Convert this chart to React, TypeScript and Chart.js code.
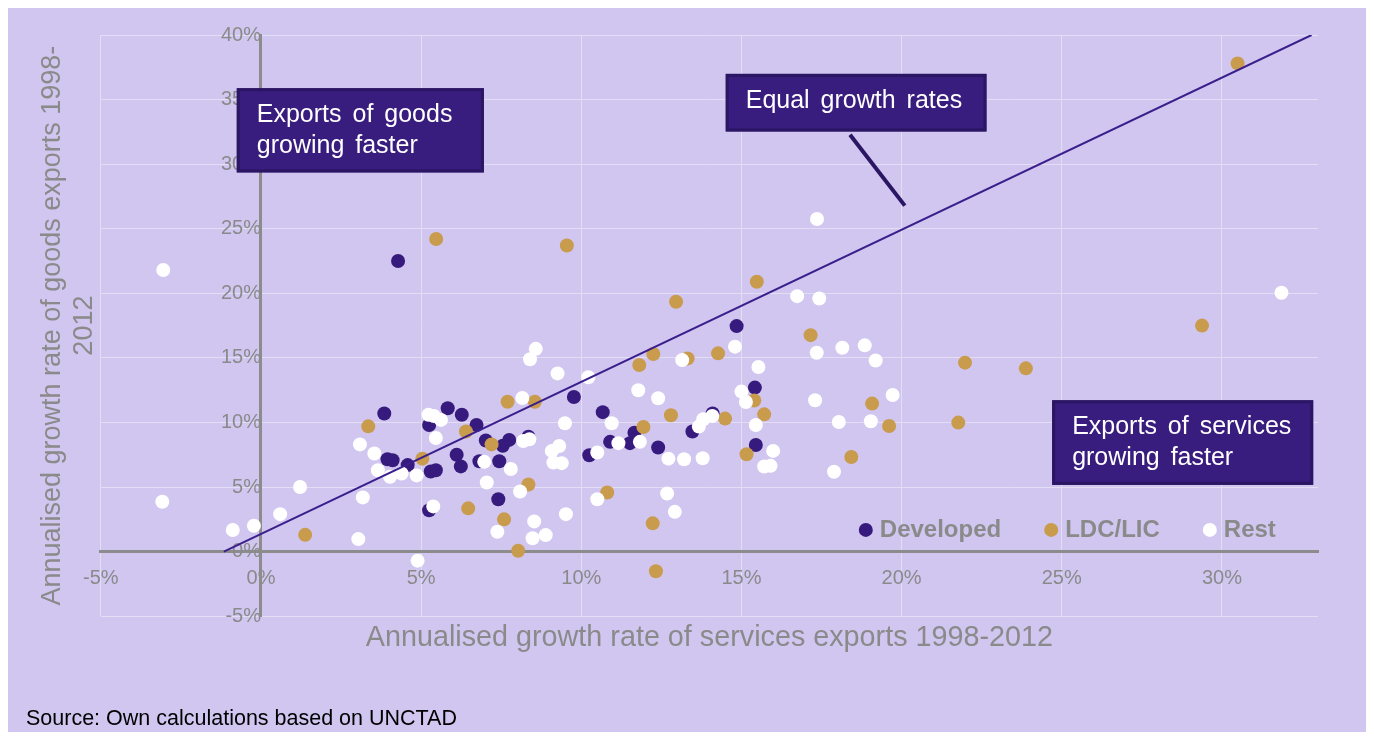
import { useEffect, useRef } from 'react';
import { Chart, registerables } from 'chart.js';

Chart.register(...registerables);

// ---- Data (values in %) ----
const developedX = [4.28, 3.85, 3.95, 4.11, 4.58, 5.25, 5.3, 5.46, 5.25, 5.83, 6.27, 6.73, 7.02, 7.55, 7.75, 8.35, 6.11, 6.24, 6.82, 7.44, 7.41, 9.77, 10.67, 11.66, 10.9, 11.52, 12.4, 13.47, 14.1, 10.25, 14.85, 15.42, 15.45];
const developedY = [22.5, 10.7, 7.15, 7.08, 6.7, 3.2, 6.2, 6.3, 9.8, 11.1, 10.6, 9.8, 8.6, 8.2, 8.65, 8.9, 7.5, 6.6, 7.0, 7.0, 4.06, 11.97, 10.8, 9.2, 8.5, 8.4, 8.06, 9.3, 10.7, 7.46, 17.46, 12.7, 8.26];

const ldcX = [3.35, 5.04, 1.38, 6.4, 7.2, 8.55, 7.7, 8.35, 6.47, 7.59, 8.03, 5.47, 9.55, 12.96, 15.48, 12.25, 11.81, 13.32, 14.27, 17.16, 15.4, 15.71, 15.16, 12.8, 11.94, 14.49, 10.81, 12.23, 12.33, 19.08, 19.61, 18.43, 21.98, 23.88, 21.77, 30.49, 29.38];
const ldcY = [9.7, 7.2, 1.3, 9.3, 8.3, 11.6, 11.6, 5.2, 3.35, 2.5, 0.07, 24.2, 23.7, 19.35, 20.9, 15.3, 14.45, 14.96, 15.35, 16.76, 11.7, 10.63, 7.54, 10.56, 9.65, 10.3, 4.58, 2.19, -1.52, 11.46, 9.73, 7.33, 14.63, 14.19, 9.99, 37.8, 17.5];

const restX = [-3.05, -3.08, -0.88, -0.22, 0.6, 1.22, 3.09, 3.54, 3.65, 4.03, 4.39, 4.86, 3.18, 3.04, 4.89, 5.38, 5.23, 5.4, 5.62, 5.46, 6.97, 7.8, 7.05, 8.09, 7.38, 8.53, 8.48, 8.89, 8.38, 8.19, 8.16, 8.58, 8.4, 9.26, 10.22, 11.78, 12.4, 13.15, 14.8, 17.35, 15.0, 15.14, 15.53, 15.45, 15.99, 15.71, 15.91, 9.49, 10.95, 11.16, 11.83, 12.72, 13.21, 13.79, 13.67, 13.81, 14.09, 10.5, 9.08, 9.31, 9.13, 9.39, 10.5, 12.68, 12.92, 9.52, 16.74, 17.43, 17.36, 18.15, 18.85, 19.19, 17.3, 19.72, 18.04, 19.04, 17.89, 31.86];
const restY = [21.8, 3.86, 1.67, 2.0, 2.9, 5.0, 8.3, 7.6, 6.3, 5.8, 6.05, 5.9, 4.2, 0.97, -0.7, 3.5, 10.6, 10.5, 10.2, 8.8, 6.95, 6.4, 5.35, 4.66, 1.54, 2.34, 1.03, 1.28, 8.7, 8.57, 11.9, 15.7, 14.9, 13.8, 13.5, 12.49, 11.87, 14.83, 15.87, 15.4, 12.39, 11.58, 14.3, 9.8, 7.8, 6.59, 6.64, 9.94, 9.94, 8.4, 8.5, 7.2, 7.15, 7.23, 9.68, 10.25, 10.5, 7.67, 7.8, 8.18, 6.9, 6.85, 4.06, 4.5, 3.08, 2.9, 19.78, 19.6, 25.75, 15.79, 15.97, 14.8, 11.72, 12.13, 10.04, 10.09, 6.18, 20.04];

const equalLineX = [-1.16, 32.8];
const equalLineY = [0, 40];

const seriesLabels = ['Developed', 'LDC/LIC', 'Rest'];
const xTitleText = 'Annualised growth rate of services exports 1998-2012';
const yTitleText = ['Annualised growth rate of goods exports 1998-', '2012'];
const sourceText = 'Source: Own calculations based on UNCTAD';

// ---- Styles ----
const FONT = "'Liberation Sans', Arial, sans-serif";
const BG = '#d1c6f0';
const GRID = '#e3def4';
const AXIS = '#8c8c8c';
const TEXT_GRAY = '#8a8a8a';
const DEV = '#371a7d';
const LDC = '#c89b4d';
const REST = '#ffffff';
const LINE = '#3a1f8c';
const BOX_FILL = '#381c7e';
const BOX_BORDER = '#2b1663';

// annotation boxes in data coordinates
const annotations = [
  { lines: ['Exports of goods', 'growing faster'], x0: -0.755, x1: 6.96, y0: 35.88, y1: 29.36 },
  { lines: ['Equal growth rates'], x0: 14.51, x1: 22.65, y0: 36.99, y1: 32.53 },
  { lines: ['Exports of services', 'growing faster'], x0: 24.7, x1: 32.85, y0: 11.72, y1: 5.17 },
];
const connector = { x0: 18.39, y0: 32.27, x1: 20.1, y1: 26.79 };

const zip = (xs: number[], ys: number[]) => xs.map((x, i) => ({ x, y: ys[i] }));

const bgPlugin = {
  id: 'bgFill',
  beforeDraw(chart: any) {
    const { ctx, width, height } = chart;
    ctx.save();
    ctx.fillStyle = BG;
    ctx.fillRect(0, 0, width, height);
    ctx.restore();
  },
};

const overlayPlugin = {
  id: 'overlay',
  afterDraw(chart: any) {
    const { ctx, chartArea } = chart;
    const xs = chart.scales.x;
    const ys = chart.scales.y;
    ctx.save();
    // connector
    ctx.strokeStyle = BOX_BORDER;
    ctx.lineWidth = 4;
    ctx.beginPath();
    ctx.moveTo(xs.getPixelForValue(connector.x0), ys.getPixelForValue(connector.y0));
    ctx.lineTo(xs.getPixelForValue(connector.x1), ys.getPixelForValue(connector.y1));
    ctx.stroke();
    // boxes
    annotations.forEach((a) => {
      const l = xs.getPixelForValue(a.x0);
      const r = xs.getPixelForValue(a.x1);
      const t = ys.getPixelForValue(a.y0);
      const b = ys.getPixelForValue(a.y1);
      ctx.fillStyle = BOX_FILL;
      ctx.fillRect(l, t, r - l, b - t);
      ctx.strokeStyle = BOX_BORDER;
      ctx.lineWidth = 3;
      ctx.strokeRect(l + 1.5, t + 1.5, r - l - 3, b - t - 3);
      ctx.fillStyle = '#ffffff';
      ctx.font = `25px ${FONT}`;
      (ctx as any).wordSpacing = '4px';
      ctx.textBaseline = 'middle';
      ctx.textAlign = 'left';
      a.lines.forEach((line, i) => {
        ctx.fillText(line, l + 20, t + 27 + i * 31);
      });
      (ctx as any).wordSpacing = '0px';
    });
    // legend
    ctx.font = `bold 24px ${FONT}`;
    ctx.textBaseline = 'middle';
    ctx.textAlign = 'left';
    let lx = chartArea.left + 765;
    const ly = chartArea.bottom - 86.3;
    chart.data.datasets.forEach((ds: any) => {
      if (!seriesLabels.includes(ds.label)) return;
      ctx.fillStyle = ds.backgroundColor;
      ctx.beginPath();
      ctx.arc(lx, ly, 7, 0, Math.PI * 2);
      ctx.fill();
      ctx.fillStyle = TEXT_GRAY;
      ctx.fillText(ds.label, lx + 14, ly);
      lx += 14 + ctx.measureText(ds.label).width + 50;
    });
    ctx.restore();
  },
};

export default function App() {
  const ref = useRef<HTMLCanvasElement>(null);
  useEffect(() => {
    if (!ref.current) return;
    const tickFont = { family: FONT, size: 20 };
    const chart = new Chart(ref.current, {
      type: 'scatter',
      data: {
        datasets: [
          {
            label: 'Equal growth rates',
            type: 'line',
            data: zip(equalLineX, equalLineY),
            borderColor: LINE,
            borderWidth: 2,
            pointRadius: 0,
            fill: false,
            showLine: true,
            order: 0,
          } as any,
          { label: seriesLabels[0], data: zip(developedX, developedY), backgroundColor: DEV, pointRadius: 7, borderWidth: 0, order: 3 },
          { label: seriesLabels[1], data: zip(ldcX, ldcY), backgroundColor: LDC, pointRadius: 7, borderWidth: 0, order: 2 },
          { label: seriesLabels[2], data: zip(restX, restY), backgroundColor: REST, pointRadius: 7, borderWidth: 0, order: 1 },
        ],
      },
      options: {
        animation: false,
        responsive: true,
        maintainAspectRatio: false,
        events: [],
        layout: { padding: { left: 18, right: 48, top: 27, bottom: 0 } },
        plugins: {
          legend: { display: false },
          tooltip: { enabled: false },
          title: {
            display: true,
            text: sourceText,
            position: 'bottom',
            align: 'start',
            color: '#000000',
            font: { family: FONT, size: 21.5, weight: 'normal', lineHeight: 1.2 },
            padding: { top: 51, bottom: 0 },
          },
        },
        scales: {
          x: {
            type: 'linear',
            position: { y: 0 } as any,
            min: -5,
            max: 33,
            ticks: {
              stepSize: 5,
              includeBounds: false,
              callback: (v: any) => `${v}%`,
              color: TEXT_GRAY,
              font: tickFont,
              padding: 0,
            },
            grid: { color: GRID, lineWidth: 1, drawTicks: true, tickLength: 15, tickColor: 'rgba(0,0,0,0)' },
            border: { display: true, color: AXIS, width: 3 },
          },
          y: {
            type: 'linear',
            position: { x: 0 } as any,
            min: -5,
            max: 40,
            ticks: {
              stepSize: 5,
              includeBounds: false,
              callback: (v: any) => `${v}%`,
              color: TEXT_GRAY,
              font: tickFont,
              padding: 0,
            },
            grid: { color: GRID, lineWidth: 1, drawTicks: true, tickLength: 19, tickColor: 'rgba(0,0,0,0)' },
            border: { display: true, color: AXIS, width: 3 },
          },
          xTitle: {
            type: 'linear',
            axis: 'x',
            position: 'bottom',
            display: true,
            grid: { display: false, drawTicks: false },
            border: { display: false },
            ticks: { display: false },
            title: {
              display: true,
              text: xTitleText,
              color: TEXT_GRAY,
              font: { family: FONT, size: 28.75, lineHeight: 1.2 },
              padding: { top: 4.5, bottom: 0 },
            },
          } as any,
          yTitle: {
            type: 'linear',
            axis: 'y',
            position: 'left',
            display: true,
            grid: { display: false, drawTicks: false },
            border: { display: false },
            ticks: { display: false },
            title: {
              display: true,
              text: yTitleText,
              color: TEXT_GRAY,
              font: { family: FONT, size: 27, lineHeight: 31.6 / 27 },
              padding: { top: 11, bottom: 0.6 },
            },
          } as any,
        },
      },
      plugins: [bgPlugin, overlayPlugin],
    } as any);
    return () => chart.destroy();
  }, []);
  return (
    <div style={{ width: 1358, height: 724, position: 'relative' }}>
      <canvas ref={ref} />
    </div>
  );
}
